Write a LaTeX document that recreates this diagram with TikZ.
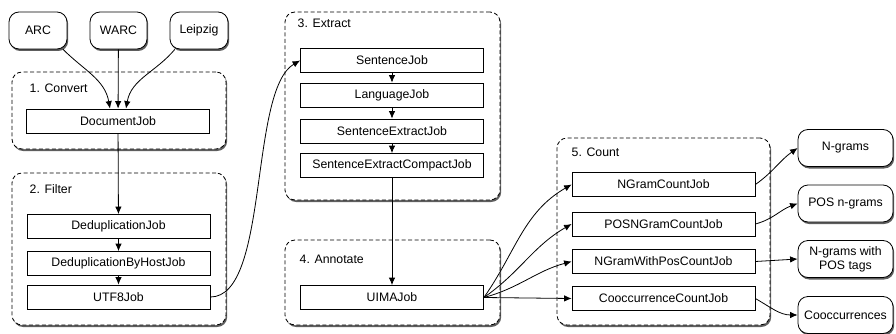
\documentclass[tikz,border=0pt]{standalone}
\usepackage{fontspec}
\setmainfont{Liberation Sans}
\usetikzlibrary{arrows.meta,shadows}
\begin{document}
\begin{tikzpicture}[x=1pt,y=-1pt,line width=0.8pt,font=\fontsize{12.3}{14}\selectfont,>={Latex[length=7.5pt,width=6.5pt]}]
			\tikzset{job/.style={draw,rectangle,fill=white,inner sep=0pt,minimum width=183pt,minimum height=24pt},
				stage/.style={draw,rectangle,fill=white,rounded corners=10pt,dash pattern=on 4pt off 2.5pt,
					drop shadow={shadow xshift=1.2pt,shadow yshift=-2pt,fill=black!70,opacity=0.9}},
				data/.style={draw,rectangle,fill=white,rounded corners=10pt,align=center,inner sep=1pt,minimum height=37pt,
					drop shadow={shadow xshift=1.2pt,shadow yshift=-2pt,fill=black!70,opacity=0.9}},
				title/.style={anchor=base west}}
			\useasboundingbox (0,0) rectangle (896,334);
			% stages
			\node [stage,minimum width=214pt,minimum height=77pt] (convert) at (119,110.5) {};
			\node [stage,minimum width=214pt,minimum height=152pt] (filter) at (119,249) {};
			\node [stage,minimum width=215pt,minimum height=188pt] (extract) at (392.5,106) {};
			\node [stage,minimum width=215pt,minimum height=85pt] (annotate) at (392.5,282.5) {};
			\node [stage,minimum width=213pt,minimum height=187pt] (count) at (663.5,231.5) {};
			\node [title] at (26,93) {1. Convert};
			\node [title] at (26,193) {2. Filter};
			\node [title] at (294,28) {3. Extract};
			\node [title] at (296,263) {4. Annotate};
			\node [title] at (568,157) {5. Count};
			% inputs
			\node [data,minimum width=58pt] (arc) at (38,30.5) {ARC};
			\node [data,minimum width=57pt] (warc) at (118.5,30.5) {WARC};
			\node [data,minimum width=58pt] (leipzig) at (199,30.5) {Leipzig};
			% jobs
			\node [job] (doc) at (118,121) {DocumentJob};
			\node [job] (dedup) at (118.5,226.5) {DeduplicationJob};
			\node [job] (host) at (118.5,263.5) {DeduplicationByHostJob};
			\node [job] (utf) at (118.5,297) {UTF8Job};
			\node [job] (sent) at (392,60.5) {SentenceJob};
			\node [job] (lang) at (392,95) {LanguageJob};
			\node [job] (extr) at (392,131) {SentenceExtractJob};
			\node [job] (compact) at (392,165.5) {SentenceExtractCompactJob};
			\node [job] (uima) at (392,297.5) {UIMAJob};
			\node [job] (ngram) at (663.5,184.5) {NGramCountJob};
			\node [job] (posngram) at (663.5,224) {POSNGramCountJob};
			\node [job] (withpos) at (663.5,261.5) {NGramWithPosCountJob};
			\node [job] (cooc) at (663.5,298.5) {CooccurrenceCountJob};
			% outputs
			\node [data,minimum width=95pt] (ngrams) at (845.5,148) {N-grams};
			\node [data,minimum width=95pt] (posngrams) at (845.5,203.5) {POS n-grams};
			\node [data,minimum width=95pt] (ngramspos) at (845.5,259) {N-grams with\\POS tags};
			\node [data,minimum width=95pt] (coocs) at (845.5,315) {Cooccurrences};
			% flow
			\draw [->] (arc.-37) to[out=-45,in=100] ([xshift=-8pt]doc.north);
			\draw [->] (warc) -- (doc);
			\draw [->] (leipzig.-142) to[out=-130,in=80] ([xshift=8pt]doc.north);
			\draw [->] (doc) -- (dedup);
			\draw [->] (dedup) -- (host);
			\draw [->] (host) -- (utf);
			\draw [->] (utf.east) to[out=0,in=210,looseness=0.6] (sent.west);
			\draw [->] (sent) -- (lang);
			\draw [->] (lang) -- (extr);
			\draw [->] (extr) -- (compact);
			\draw [->] (compact) -- (uima);
			\draw [->] (uima.east) to[out=55,in=210] (ngram.west);
			\draw [->] (uima.east) to[out=35,in=210] (posngram.west);
			\draw [->] (uima.east) to[out=15,in=195] (withpos.west);
			\draw [->] (uima.east) -- (cooc.west);
			\draw [->] (ngram.east) to[out=35,in=215] (ngrams.west);
			\draw [->] (posngram.east) to[out=15,in=200] (posngrams.west);
			\draw [->] (withpos.east) -- (ngramspos.west);
			\draw [->] (cooc.east) to[out=-30,in=180] (coocs.west);
		\end{tikzpicture}
\end{document}
